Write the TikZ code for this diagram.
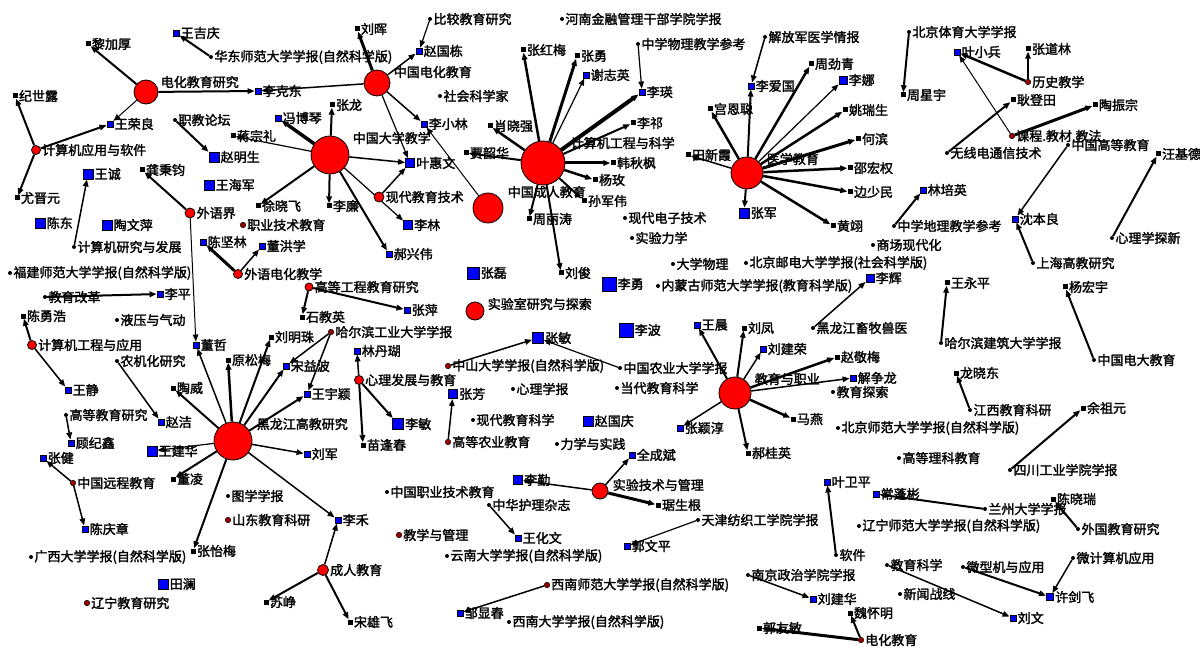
\documentclass[tikz,border=0pt]{standalone}
\usepackage{fontspec}
\newfontfamily\cjk[FakeBold=2]{Noto Sans CJK SC}
\usetikzlibrary{arrows.meta}
\pgfdeclarelayer{bg}
\pgfsetlayers{bg,main}
\tikzset{
 lab/.style={font=\cjk\fontsize{13}{13}\selectfont, inner sep=0.6pt, text=black},
 au/.style={rectangle, draw=black, fill=blue, line width=0.9pt, minimum size=#1, inner sep=0pt},
 au/.default=6pt,
 ab/.style={rectangle, fill=black, minimum size=5pt, inner sep=0pt},
 hub/.style={circle, draw=black, fill=red, line width=0.8pt, minimum size=#1, inner sep=0pt},
 jd/.style={circle, fill=black, minimum size=4pt, inner sep=0pt},
 jr/.style={circle, draw=black, fill=red!60!black, line width=0.5pt, minimum size=5.5pt, inner sep=0pt},
 ed/.style={draw=black, -{Triangle[length=7pt,width=5.5pt]}},
 every label/.style={lab},
 label distance=0.5pt
}
\newcommand\edg[3]{\draw[ed,line width=#1pt] (#2) -- (#3);}
\begin{document}
\begin{tikzpicture}[x=1pt,y=-1pt]
\useasboundingbox (0,0) rectangle (1200,647);
% ---------- hubs (journals, red) ----------
\node[hub=24pt] (dhjyyj) at (146,92) {};
\node[lab,anchor=west] (dhjyyj-l) at (160,82) {电化教育研究};
\node[hub=9pt,label=right:计算机应用与软件] (jsjyy) at (36,150) {};
\node[hub=26pt] (zgdhjy) at (377,83) {};
\node[lab,anchor=west] (zgdhjy-l) at (393,72) {中国电化教育};
\node[hub=38pt] (zgdxjx) at (330,155) {};
\node[lab,anchor=west] (zgdxjx-l) at (352,138) {中国大学教学};
\node[hub=10pt,label=right:现代教育技术] (xdjyjs) at (379,197) {};
\node[hub=30pt] (zgcrjy) at (488,208) {};
\node[lab,anchor=west] (zgcrjy-l) at (507,192) {中国成人教育};
\node[hub=44pt] (jsjgc) at (543,163) {};
\node[lab,anchor=west] (jsjgc-l) at (570,143) {计算机工程与科学};
\node[hub=32pt] (yxjy) at (747,173) {};
\node[lab,anchor=west] (yxjy-l) at (766,159) {医学教育};
\node[hub=10pt,label=right:外语界] (wyj) at (190,213) {};
\node[hub=9pt,label=right:外语电化教学] (wydh) at (238,274) {};
\node[hub=9pt,label=right:计算机工程与应用] (jsjgy) at (32,345) {};
\node[hub=8pt,label=right:高等工程教育研究] (gdgc) at (309,287) {};
\node[hub=9pt,label=right:心理发展与教育] (xlfz) at (359,380) {};
\node[hub=18pt] (sys) at (475,311) {};
\node[lab,anchor=west] (sys-l) at (487,304) {实验室研究与探索};
\node[hub=38pt] (hljgj) at (233,441) {};
\node[lab,anchor=west] (hljgj-l) at (256,424) {黑龙江高教研究};
\node[hub=32pt] (jyzy) at (735,393) {};
\node[lab,anchor=west] (jyzy-l) at (754,379) {教育与职业};
\node[hub=16pt] (syjs) at (600,491) {};
\node[lab,anchor=west] (syjs-l) at (612,485) {实验技术与管理};
\node[hub=11pt,label=right:成人教育] (crjy) at (323,570) {};
% ---------- dark red journal dots ----------
\node[jr,label=right:职业技术教育] (zyjsjy) at (243,225) {};
\node[jr,label=right:哈尔滨工业大学学报] (hgd) at (331,332) {};
\node[jr,label=right:中山大学学报(自然科学版)] (zsdx) at (448,366) {};
\node[jr,label=right:中国远程教育] (zgyc) at (73,483) {};
\node[jr,label=right:山东教育科研] (sdjy) at (228,520) {};
\node[jr,label=right:辽宁教育研究] (lnjy) at (87,603) {};
\node[jr,label=right:教学与管理] (jxgl) at (399,535) {};
\node[jr,label=right:高等农业教育] (gdny) at (448,442) {};
\node[jr,label=right:西南师范大学学报(自然科学版)] (xnsf) at (547,585) {};
\node[jr,label=right:历史教学] (lsjx) at (1028,82) {};
\node[jr,label=right:课程.教材.教法] (kcjc) at (1012,136) {};
\node[jr,label=right:电化教育] (dhjy) at (861,640) {};
% ---------- black journal dots ----------
\node[jd,label=right:华东师范大学学报(自然科学版)] (hdsf) at (211,57) {};
\node[jd,label=right:职教论坛] (zjlt) at (175,120) {};
\node[jd,label=right:比较教育研究] (bjjy) at (430,19) {};
\node[jd,label=right:社会科学家] (shkx) at (440,96) {};
\node[jd,label=right:河南金融管理干部学院学报] (hnjr) at (562,19) {};
\node[jd,label=right:中学物理教学参考] (zxwl) at (638,44) {};
\node[jd,label=right:解放军医学情报] (jfj) at (765,37) {};
\node[jd,label=right:现代电子技术] (xddz) at (625,218) {};
\node[jd,label=right:实验力学] (sylx) at (632,238) {};
\node[jd,label=right:大学物理] (dxwl) at (673,264) {};
\node[jd,label=right:北京邮电大学学报(社会科学版)] (bjyd) at (746,263) {};
\node[jd,label=right:内蒙古师范大学学报(教育科学版)] (nmg) at (658,286) {};
\node[jd,label=right:黑龙江畜牧兽医] (hljxm) at (813,328) {};
\node[jd,label=right:中国农业大学学报] (zgny) at (620,368) {};
\node[jd,label=right:当代教育科学] (ddjy) at (617,388) {};
\node[jd,label=right:教育探索] (jyts) at (833,392) {};
\node[jd,label=right:北京师范大学学报(自然科学版)] (bjsf) at (838,428) {};
\node[jd,label=right:心理学报] (xlxb) at (513,389) {};
\node[jd,label=right:现代教育科学] (xdjykx) at (473,420) {};
\node[jd,label=right:力学与实践] (lxsj) at (557,444) {};
\node[jd,label=right:天津纺织工学院学报] (tjfz) at (698,520) {};
\node[jd,label=right:中国职业技术教育] (zgzyjs) at (387,492) {};
\node[jd,label=right:中华护理杂志] (zhhl) at (489,505) {};
\node[jd,label=right:云南大学学报(自然科学版)] (yndx) at (447,556) {};
\node[jd,label=right:西南大学学报(自然科学版)] (xndx) at (509,622) {};
\node[jd,label=right:南京政治学院学报] (njzz) at (748,575) {};
\node[jd,label=right:软件] (rj) at (836,555) {};
\node[jd,label=right:辽宁师范大学学报(自然科学版)] (lnsf) at (859,526) {};
\node[jd,label=right:高等理科教育] (gdlk) at (899,458) {};
\node[jd,label=right:四川工业学院学报] (scgy) at (1010,470) {};
\node[jd,label=right:兰州大学学报] (lzdx) at (985,509) {};
\node[jd,label=right:外国教育研究] (wgjy) at (1078,529) {};
\node[jd,label=right:微计算机应用] (wjsj) at (1073,558) {};
\node[jd,label=right:微型机与应用] (wxj) at (963,567) {};
\node[jd,label=right:教育科学] (jykx) at (887,565) {};
\node[jd,label=right:新闻战线] (xwzx) at (900,594) {};
\node[jd,label=right:北京体育大学学报] (bjty) at (909,32) {};
\node[jd,label=right:无线电通信技术] (wxd) at (947,153) {};
\node[jd,label=right:中国高等教育] (zggd) at (1068,145) {};
\node[jd,label=right:中学地理教学参考] (zxdl) at (894,226) {};
\node[jd,label=right:商场现代化] (scxd) at (873,245) {};
\node[jd,label=right:上海高教研究] (shgj) at (1033,263) {};
\node[jd,label=right:心理学探新] (xlts) at (1112,238) {};
\node[jd,label=right:哈尔滨建筑大学学报] (hejz) at (941,343) {};
\node[jd,label=right:中国电大教育] (zgdd) at (1094,360) {};
\node[jd,label=right:江西教育科研] (jxjy) at (970,410) {};
\node[jd,label=right:计算机研究与发展] (jsjyf) at (74,247) {};
\node[jd,label=right:福建师范大学学报(自然科学版)] (fjsf) at (10,273) {};
\node[jd,label=right:教育改革] (jygg) at (45,297) {};
\node[jd,label=right:液压与气动] (yyqd) at (117,320) {};
\node[jd,label=right:农机化研究] (njh) at (117,361) {};
\node[jd,label=right:高等教育研究] (gdjy) at (66,415) {};
\node[jd,label=right:图学学报] (txxb) at (228,496) {};
\node[jd,label=right:广西大学学报(自然科学版)] (gxdx) at (31,557) {};
% ---------- authors (blue squares) ----------
\node[au,label=right:王吉庆] (wjq) at (176,33) {};
\node[au,label=right:王荣良] (wrl) at (110,124) {};
\node[au,label=right:李克东] (lkd) at (258,91) {};
\node[au=10pt,label=right:赵明生] (zmsh) at (214,157) {};
\node[au=10pt,label=right:王诚] (wc) at (88,174) {};
\node[au=10pt,label=right:王海军] (whj) at (209,185) {};
\node[au,label=right:赵国栋] (zgd) at (419,51) {};
\node[au,label=right:李小林] (lxl) at (424,124) {};
\node[au,label=right:冯博琴] (fbq) at (278,118) {};
\node[au=9pt,label=right:叶惠文] (yhw) at (410,163) {};
\node[au=9pt,label=right:李林] (lilin) at (408,225) {};
\node[au,label=right:郝兴伟] (hxw) at (389,254) {};
\node[au,label=right:谢志英] (xzy) at (586,75) {};
\node[au,label=right:李瑛] (ly) at (642,92) {};
\node[au,label=right:李爱国] (lag) at (751,86) {};
\node[au=8pt,label=right:李娜] (ln) at (843,80) {};
\node[au=10pt,label=right:张军] (zj) at (744,213) {};
\node[au,label=right:叶小兵] (yxb) at (957,52) {};
\node[au,label=right:林培英] (lpy) at (923,190) {};
\node[au,label=right:沈本良] (sbl) at (1015,219) {};
\node[au=10pt,label=right:陈东] (cd) at (40,223) {};
\node[au=10pt,label=right:陶文萍] (twp) at (107,225) {};
\node[au,label=right:陈坚林] (cjl) at (203,242) {};
\node[au,label=right:董洪学] (dhx) at (262,246) {};
\node[au,label=right:李平] (lp) at (160,294) {};
\node[au,label=right:董哲] (dz) at (196,345) {};
\node[au,label=right:宋益波] (sybo) at (286,366) {};
\node[au,label=right:王宇颖] (wyy) at (307,394) {};
\node[au,label=right:张萍] (zping) at (407,310) {};
\node[au,label=right:林丹瑚] (ldh) at (357,351) {};
\node[au=12pt,label=right:张磊] (zl) at (473,273) {};
\node[au=14pt,label=right:李勇] (lyong) at (609,284) {};
\node[au=14pt,label=right:李波] (lb) at (626,330) {};
\node[au=11pt,label=right:张敏] (zmin) at (538,338) {};
\node[au=9pt,label=right:张芳] (zf) at (453,394) {};
\node[au=11pt,label=right:李敏] (lmin) at (398,424) {};
\node[au=10pt,label=right:赵国庆] (zgq) at (588,421) {};
\node[au,label=right:王静] (wjing) at (68,390) {};
\node[au,label=right:赵洁] (zjie) at (161,422) {};
\node[au,label=right:顾纪鑫] (gjx) at (71,443) {};
\node[au=10pt,label=right:王建华] (wjh) at (152,451) {};
\node[au,label=right:张健] (zjian) at (43,458) {};
\node[au,label=right:陈庆章] (cqz) at (85,529) {};
\node[au=10pt,label=right:田澜] (tl) at (163,584) {};
\node[au,label=right:刘军] (lj) at (307,454) {};
\node[au,label=right:李禾] (lh) at (338,520) {};
\node[au=9pt,label=right:李勤] (lq) at (518,480) {};
\node[au,label=right:王化文] (whw) at (518,538) {};
\node[au,label=right:邹显春] (zxc) at (460,613) {};
\node[au,label=right:全成斌] (qcb) at (632,455) {};
\node[au,label=right:郭文平] (gwp) at (627,546) {};
\node[au,label=right:王晨] (wchen) at (697,325) {};
\node[au,label=right:刘建荣] (ljr) at (763,349) {};
\node[au,label=right:解争龙] (jzl) at (853,378) {};
\node[au,label=right:张颖淳] (zyc) at (680,428) {};
\node[au=8pt,label=right:李辉] (lhui) at (870,278) {};
\node[au,label=right:叶卫平] (ywp) at (827,482) {};
\node[au,label=right:常蓬彬] (cpb) at (876,494) {};
\node[au,label=right:刘建华] (ljhua) at (813,599) {};
\node[au=7pt,label=right:许剑飞] (xjf) at (1050,597) {};
\node[au,label=right:刘文] (lw) at (1013,618) {};
% ---------- authors (small black squares) ----------
\node[ab,label=right:黎加厚] (ljhou) at (88,44) {};
\node[ab,label=right:纪世露] (jsl) at (15,96) {};
\node[ab,label=right:尤晋元] (yjy) at (17,198) {};
\node[ab,label=right:蒋宗礼] (jzli) at (233,136) {};
\node[ab,label=right:龚秉钧] (gbj) at (142,170) {};
\node[ab,label=right:徐晓飞] (xxf) at (258,206) {};
\node[ab,label=right:刘晖] (lhuii) at (357,29) {};
\node[ab,label=right:张龙] (zlong) at (332,105) {};
\node[ab,label=right:李廉] (llian) at (329,206) {};
\node[ab,label=right:肖晓强] (xxq) at (490,126) {};
\node[ab,label=right:贾韶华] (jsh) at (466,153) {};
\node[ab,label=right:张红梅] (zhm) at (523,50) {};
\node[ab,label=right:张勇] (zyong) at (577,56) {};
\node[ab,label=right:李祁] (lqi) at (633,123) {};
\node[ab,label=right:韩秋枫] (hqf) at (613,163) {};
\node[ab,label=right:杨玫] (ym) at (595,180) {};
\node[ab,label=right:孙军伟] (sjw) at (584,201) {};
\node[ab,label=right:周丽涛] (zlt) at (529,219) {};
\node[ab,label=right:刘俊] (ljun) at (561,273) {};
\node[ab,label=right:宫恩聪] (gec) at (710,109) {};
\node[ab,label=right:田新霞] (txx) at (688,155) {};
\node[ab,label=right:周劲青] (zjq) at (811,64) {};
\node[ab,label=right:姚瑞生] (yrs) at (845,110) {};
\node[ab,label=right:何滨] (hb) at (858,139) {};
\node[ab,label=right:邵宏权] (shq) at (850,168) {};
\node[ab,label=right:边少民] (bsm) at (850,192) {};
\node[ab,label=right:黄翊] (hy) at (833,226) {};
\node[ab,label=right:周星宇] (zxy) at (903,95) {};
\node[ab,label=right:张道林] (zdl) at (1028,49) {};
\node[ab,label=right:耿登田] (gdt) at (1013,100) {};
\node[ab,label=right:陶振宗] (tzz) at (1095,105) {};
\node[ab,label=right:汪基德] (wjd) at (1158,154) {};
\node[ab,label=right:王永平] (wyp) at (947,283) {};
\node[ab,label=right:杨宏宇] (yhy) at (1065,287) {};
\node[ab,label=right:龙晓东] (lxd) at (956,373) {};
\node[ab,label=right:余祖元] (yzy) at (1083,408) {};
\node[ab,label=right:陈晓瑞] (cxr) at (1053,499) {};
\node[ab,label=right:石教英] (sjy) at (302,317) {};
\node[ab,label=right:刘明珠] (lmz) at (271,337) {};
\node[ab,label=right:原松梅] (ysm) at (228,360) {};
\node[ab,label=right:陈勇浩] (cyh) at (23,316) {};
\node[ab,label=right:陶威] (tw) at (173,388) {};
\node[ab,label=right:董凌] (dl) at (173,479) {};
\node[ab,label=right:张怡梅] (zym) at (193,551) {};
\node[ab,label=right:苗逢春] (mfc) at (363,445) {};
\node[ab,label=right:苏峥] (sz) at (266,602) {};
\node[ab,label=right:宋雄飞] (sxf) at (350,622) {};
\node[ab,label=right:郝桂英] (hgy) at (748,453) {};
\node[ab,label=right:马燕] (my) at (793,419) {};
\node[ab,label=right:刘凤] (lf) at (744,328) {};
\node[ab,label=right:赵敬梅] (zjm) at (837,357) {};
\node[ab,label=right:魏怀明] (whm) at (850,613) {};
\node[ab,label=right:郭友敏] (gym) at (759,628) {};
\node[ab,label=right:琚生根] (jsg) at (658,505) {};
% ---------- connectors (behind the nodes) ----------
\begin{pgfonlayer}{bg}
\fill[white] (0,0) rectangle (1200,647);
\edg{2}{dhjyyj}{ljhou} \edg{2}{dhjyyj}{lkd} \edg{1}{dhjyyj}{wrl}
\edg{2}{jsjyy}{jsl} \edg{2}{jsjyy}{yjy} \edg{2}{jsjyy}{wrl}
\edg{2}{hdsf}{wjq} \edg{2}{zjlt}{zmsh}
\edg{3}{zgdhjy}{lhuii} \edg{1.5}{zgdhjy}{zgd} \edg{1.5}{zgdhjy}{lkd} \edg{1.5}{zgdhjy}{lxl} \edg{1.2}{zgdhjy}{yhw}
\edg{1.2}{bjjy}{zgd}
\edg{3.5}{zgdxjx}{fbq} \edg{2}{zgdxjx}{zlong} \edg{1.5}{zgdxjx}{yhw} \edg{1.2}{zgdxjx}{jzli} \edg{2}{zgdxjx}{xxf} \edg{2}{zgdxjx}{llian} \edg{2}{zgdxjx}{hxw} \edg{1.2}{zgdxjx}{lilin}
\edg{1.5}{xdjyjs}{yhw}
\edg{1}{zgcrjy}{lxl}
\edg{2.5}{jsjgc}{zhm} \edg{3}{jsjgc}{zyong} \edg{1.2}{jsjgc}{xzy} \edg{4}{jsjgc}{ly} \edg{2}{jsjgc}{lqi} \edg{3}{jsjgc}{hqf} \edg{2.5}{jsjgc}{ym} \edg{2}{jsjgc}{sjw} \edg{2.5}{jsjgc}{xxq} \edg{2}{jsjgc}{jsh} \edg{2}{jsjgc}{zlt} \edg{2}{jsjgc}{ljun}
\edg{1.2}{zxwl}{ly}
\edg{2.5}{yxjy}{gec} \edg{2}{yxjy}{lag} \edg{2.5}{yxjy}{zjq} \edg{1.2}{yxjy}{ln} \edg{2.5}{yxjy}{yrs} \edg{3}{yxjy}{hb} \edg{2.5}{yxjy}{shq} \edg{2.5}{yxjy}{bsm} \edg{2.5}{yxjy}{hy} \edg{2}{yxjy}{zj} \edg{1.5}{yxjy}{txx}
\edg{1.5}{jfj}{lag}
\edg{2}{bjty}{zxy}
\edg{2.5}{lsjx}{zdl} \edg{2.5}{lsjx}{yxb}
\edg{1}{kcjc}{yxb} \edg{3}{kcjc}{tzz}
\edg{2}{wxd}{gdt} \edg{1.5}{zggd}{sbl} \edg{2}{shgj}{sbl} \edg{2}{xlts}{wjd}
\edg{2}{zxdl}{lpy} \edg{2}{hejz}{wyp} \edg{2}{zgdd}{yhy} \edg{2}{jxjy}{lxd}
\edg{2}{scgy}{yzy} \edg{2}{lzdx}{cpb} \edg{2}{wgjy}{cxr}
\edg{1.5}{wjsj}{xjf} \edg{2}{wxj}{xjf} \edg{1.5}{jykx}{lw}
\edg{1.5}{njzz}{ljhua} \edg{2}{rj}{ywp}
\edg{2}{dhjy}{whm} \edg{3}{dhjy}{gym}
\edg{1.2}{tjfz}{gwp}
\edg{1.5}{syjs}{qcb} \edg{3}{syjs}{jsg} \edg{1.5}{syjs}{lq}
\edg{1.5}{zhhl}{whw} \edg{1.5}{xnsf}{zxc}
\edg{1.5}{crjy}{lh} \edg{2}{crjy}{sxf} \edg{2}{crjy}{sz}
\edg{1.5}{hljgj}{dz} \edg{2.5}{hljgj}{ysm} \edg{2}{hljgj}{lmz} \edg{2}{hljgj}{sybo} \edg{2}{hljgj}{wyy} \edg{1.5}{hljgj}{lj} \edg{1.5}{hljgj}{lh} \edg{2}{hljgj}{zym} \edg{2}{hljgj}{dl} \edg{2}{hljgj}{tw} \edg{1.2}{hljgj}{wjh}
\edg{1.5}{hgd}{sybo} \edg{1.5}{hgd}{wyy}
\edg{2}{gdgc}{zping} \edg{2}{gdgc}{sjy}
\edg{1.5}{xlfz}{ldh} \edg{2}{xlfz}{lmin} \edg{2}{xlfz}{mfc}
\edg{1.5}{gdny}{zf} \edg{1.5}{zsdx}{zmin} \edg{1.2}{zgny}{zmin}
\edg{2}{jyzy}{wchen} \edg{2}{jyzy}{lf} \edg{1.5}{jyzy}{ljr} \edg{2.5}{jyzy}{zjm} \edg{1.5}{jyzy}{jzl} \edg{2.5}{jyzy}{my} \edg{2}{jyzy}{hgy} \edg{1.5}{jyzy}{zyc}
\edg{1.5}{hljxm}{lhui}
\edg{2}{wyj}{gbj} \edg{1}{wyj}{dz}
\edg{3}{wydh}{cjl} \edg{1.5}{wydh}{dhx}
\edg{1.5}{jsjyf}{wc} \edg{2}{jygg}{lp}
\edg{2}{jsjgy}{cyh} \edg{1.5}{jsjgy}{wjing}
\edg{1.5}{njh}{zjie} \edg{1.5}{gdjy}{gjx}
\edg{1.5}{zgyc}{zjian} \edg{1.5}{zgyc}{cqz}
\end{pgfonlayer}
\end{tikzpicture}
\end{document}
